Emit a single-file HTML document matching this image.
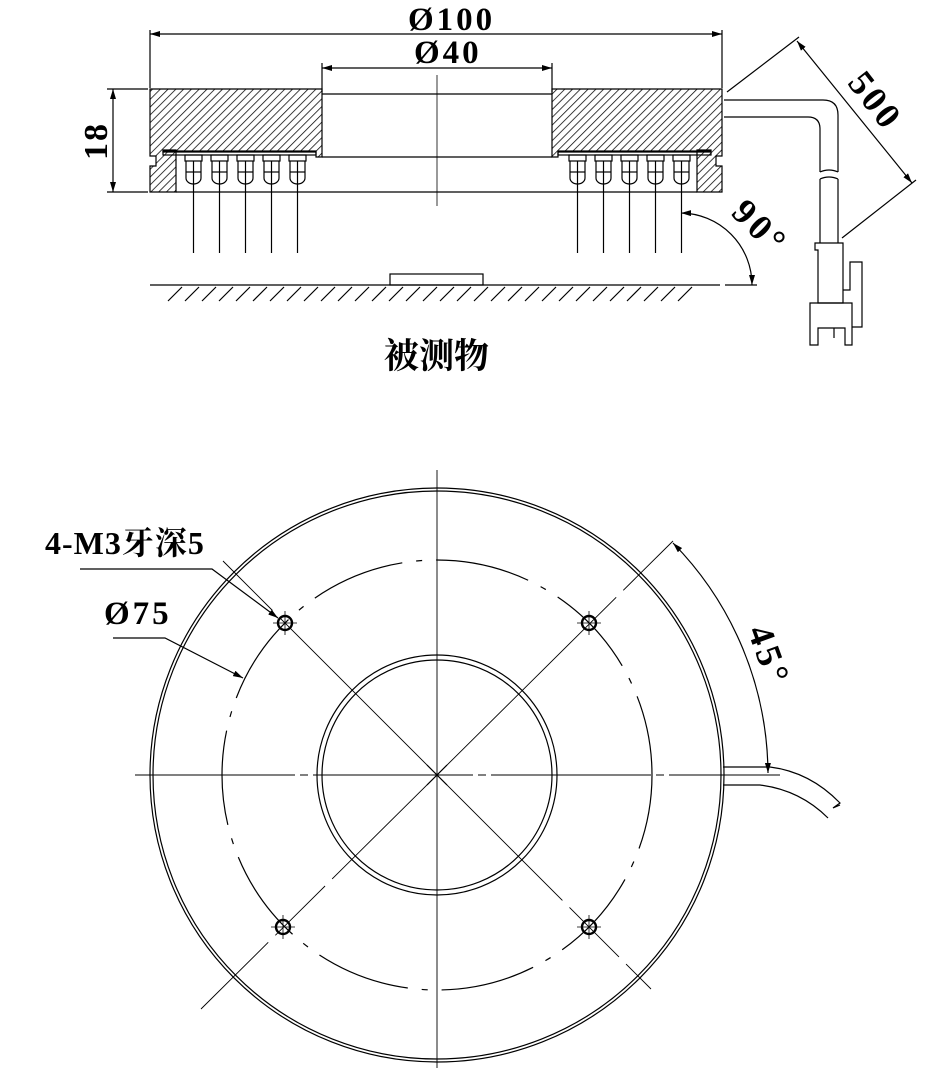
<!DOCTYPE html>
<html><head><meta charset="utf-8"><style>
html,body{margin:0;padding:0;background:#fff;}
svg{display:block;}
.t{font-family:"Liberation Serif","Noto Serif CJK SC",serif;font-weight:bold;fill:#000;}
</style></head><body>
<svg width="940" height="1068" viewBox="0 0 940 1068" xmlns="http://www.w3.org/2000/svg">
<defs>
<pattern id="h" patternUnits="userSpaceOnUse" width="5.5" height="5.5" patternTransform="rotate(45)">
<line x1="0" y1="0" x2="0" y2="5.5" stroke="#000" stroke-width="1.5"/>
</pattern>
<marker id="a" viewBox="0 0 10 6" refX="10" refY="3" markerWidth="10" markerHeight="6" orient="auto-start-reverse" markerUnits="userSpaceOnUse"><path d="M0,0 L10,3 L0,6z" fill="#000"/></marker>
</defs>
<g stroke="#000" fill="none" stroke-width="1.2">
<line x1="150" y1="30" x2="150" y2="88"/><line x1="722" y1="30" x2="722" y2="88"/>
<line x1="150" y1="34" x2="722" y2="34" marker-start="url(#a)" marker-end="url(#a)"/>
<line x1="322" y1="63" x2="322" y2="92"/><line x1="552" y1="63" x2="552" y2="92"/>
<line x1="322" y1="68" x2="552" y2="68" marker-start="url(#a)" marker-end="url(#a)"/>
<line x1="107" y1="89" x2="148" y2="89"/><line x1="107" y1="192" x2="148" y2="192"/>
<line x1="113" y1="89" x2="113" y2="192" marker-start="url(#a)" marker-end="url(#a)"/>
<path d="M150,89 H322 V157 H316 V152 H163 V150 H176 V192 H150 V166 H156 V156 H150 Z" fill="url(#h)"/>
<path d="M722,89 H552 V157 H558 V152 H711 V150 H697 V192 H722 V166 H716 V156 H722 Z" fill="url(#h)"/>
<line x1="322" y1="94" x2="552" y2="94"/>
<line x1="322" y1="157" x2="552" y2="157"/>
<line x1="176" y1="192" x2="697" y2="192"/>
<rect x="163" y="151" width="153" height="4"/>
<rect x="558" y="151" width="153" height="4"/>
<line x1="437" y1="75" x2="437" y2="206" stroke-width="0.8"/>
<g id="leds">
<g id="led"><rect x="185" y="155" width="17" height="6"/><path d="M186,161 V178 A7.5,6 0 0 0 201,178 V161"/><line x1="193.5" y1="161" x2="193.5" y2="253"/><line x1="186" y1="172" x2="201" y2="172"/></g>
<use href="#led" x="26"/><use href="#led" x="52"/><use href="#led" x="78"/><use href="#led" x="104"/>
</g>
<use href="#leds" x="384"/>
<line x1="150" y1="285" x2="720" y2="285"/><line x1="725" y1="285" x2="757" y2="285"/>
<rect x="390" y="274" width="93" height="11"/>
<path d="M182,287 l-14,14 M199,287 l-14,14 M216,287 l-14,14 M233,287 l-14,14 M250,287 l-14,14 M267,287 l-14,14 M284,287 l-14,14 M301,287 l-14,14 M318,287 l-14,14 M335,287 l-14,14 M352,287 l-14,14 M369,287 l-14,14 M386,287 l-14,14 M403,287 l-14,14 M420,287 l-14,14 M437,287 l-14,14 M454,287 l-14,14 M471,287 l-14,14 M488,287 l-14,14 M505,287 l-14,14 M522,287 l-14,14 M539,287 l-14,14 M556,287 l-14,14 M573,287 l-14,14 M590,287 l-14,14 M607,287 l-14,14 M624,287 l-14,14 M641,287 l-14,14 M658,287 l-14,14 M675,287 l-14,14 M692,287 l-14,14"/>
<path d="M681,213 A72,72 0 0 1 752,285" marker-start="url(#a)" marker-end="url(#a)"/>
<path d="M724,100 H823 Q838,100 838,115 V172"/>
<path d="M724,117 H808 Q820,117 820,129 V172"/>
<path d="M820,172 q9,-4 18,0 M820,179 q9,-4 18,0"/>
<path d="M820,179 V243 M838,179 V243"/>
<path d="M815,243 H843 V303 H818 V250 H815 Z"/>
<path d="M810,303 H852 V345 H845 V328 H818 V345 H810 Z"/>
<path d="M843,290 H850 V262 H862 V327 H852"/>
<line x1="834" y1="328" x2="834" y2="338"/>
<line x1="727" y1="92" x2="799" y2="37"/>
<line x1="842" y1="238" x2="916" y2="180"/>
<line x1="797" y1="41" x2="912" y2="183" marker-start="url(#a)" marker-end="url(#a)"/>

<circle cx="437" cy="775" r="287"/>
<circle cx="437" cy="775" r="284"/>
<circle cx="437" cy="775" r="120"/>
<circle cx="437" cy="775" r="115"/>
<circle cx="437" cy="775" r="215" stroke-dasharray="95 14 6 14" stroke-dashoffset="20"/>
<line x1="135" y1="775" x2="780" y2="775" stroke-width="0.9" stroke-dasharray="160 5 8 5"/>
<line x1="437" y1="470" x2="437" y2="1068" stroke-width="0.9"/>
<line x1="223" y1="561" x2="651" y2="989" stroke-width="0.9" stroke-dasharray="70 10 400 10"/>
<line x1="673" y1="541" x2="201" y2="1009" stroke-width="0.9" stroke-dasharray="70 10 400 10"/>
<g stroke-width="2.4">
<circle cx="285" cy="623" r="7"/><circle cx="589" cy="623" r="7"/><circle cx="283" cy="927" r="7"/><circle cx="589" cy="927" r="7"/>
</g>
<path d="M285,611 v24 M273,623 h24 M589,611 v24 M577,623 h24 M283,915 v24 M271,927 h24 M589,915 v24 M577,927 h24" stroke-width="0.8"/>
<line x1="427" y1="765" x2="447" y2="785"/><line x1="447" y1="765" x2="427" y2="785"/>
<path d="M80,569 H212 L278,618" marker-end="url(#a)"/>
<path d="M113,638 H165 L243,678" marker-end="url(#a)"/>
<path d="M673,543 A332,332 0 0 1 768,773" marker-start="url(#a)" marker-end="url(#a)"/>
<path d="M723,767 H770 Q810,772 840,803 L833,808 L840,805"/>
<path d="M723,785 H760 Q800,790 828,818"/>
</g>
<text class="t" x="408" y="30" font-size="33" letter-spacing="3">Ø100</text>
<text class="t" x="414" y="63" font-size="33" letter-spacing="3">Ø40</text>
<text class="t" font-size="34" letter-spacing="2" transform="translate(107,141) rotate(-90)" text-anchor="middle">18</text>
<text class="t" font-size="36" letter-spacing="3" transform="translate(866,108) rotate(52)" text-anchor="middle">500</text>
<text class="t" font-size="36" letter-spacing="4" transform="translate(752,236) rotate(45)" text-anchor="middle">90°</text>
<text class="t" font-size="36" letter-spacing="4" transform="translate(758,660) rotate(70)" text-anchor="middle">45°</text>
<text class="t" x="384" y="368" font-size="35" font-family="'Noto Serif CJK SC',serif">被测物</text>
<text class="t" x="45" y="554" font-size="32" letter-spacing="1">4-M3牙深5</text>
<text class="t" x="104" y="624" font-size="33" letter-spacing="3">Ø75</text>
</svg>
</body></html>
